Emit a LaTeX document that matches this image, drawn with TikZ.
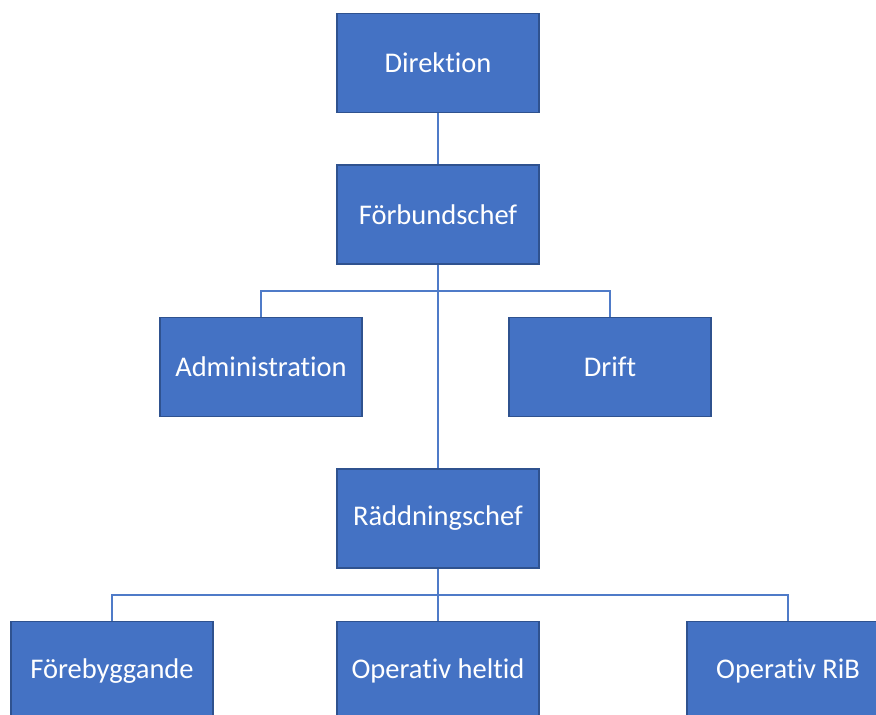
\documentclass[tikz,border=0pt]{standalone}
\usepackage{fontspec}
\setmainfont[Ligatures=NoCommon]{Carlito}
\usepackage{xcolor}

\definecolor{boxblue}{HTML}{4472C4}
\definecolor{boxedge}{HTML}{2F528F}
\definecolor{linkblue}{HTML}{4F7BC8}

\tikzset{
  orgbox/.style={draw=boxedge, fill=boxblue, text=white, line width=1.2pt,
    minimum width=202pt, minimum height=99pt, inner sep=0pt,
    font=\fontsize{28.5}{32}\selectfont},
  orglink/.style={draw=linkblue, line width=1.6pt}
}

\begin{document}
\begin{tikzpicture}[x=1pt, y=-1pt]
    \useasboundingbox (0,0) rectangle (876,715);
    \clip (0,0) rectangle (876,715);

    %% top
    \node[orgbox] (dir) at (438,63)    {Direktion};
    \node[orgbox] (fc)  at (438,214.5) {Förbundschef};

    %% staff
    \node[orgbox] (adm)   at (261,367) {Administration};
    \node[orgbox] (drift) at (610,367) {Drift};

    %% rescue
    \node[orgbox] (rc) at (438,518.5) {Räddningschef};

    \node[orgbox] (fore) at (112,671) {Förebyggande};
    \node[orgbox] (heltid) at (438,671) {Operativ heltid};
    \node[orgbox] (rib) at (788,671) {Operativ RiB};

    %% links
    \coordinate (busA) at (438,291);
    \coordinate (busB) at (438,595);

    \draw[orglink] (dir.south) -- (fc.north);
    \draw[orglink] (fc.south) -- (rc.north);
    \draw[orglink] (adm.north) |- (busA) -| (drift.north);

    \draw[orglink] (rc.south) -- (heltid.north);
    \draw[orglink] (fore.north) |- (busB) -| (rib.north);
\end{tikzpicture}
\end{document}
